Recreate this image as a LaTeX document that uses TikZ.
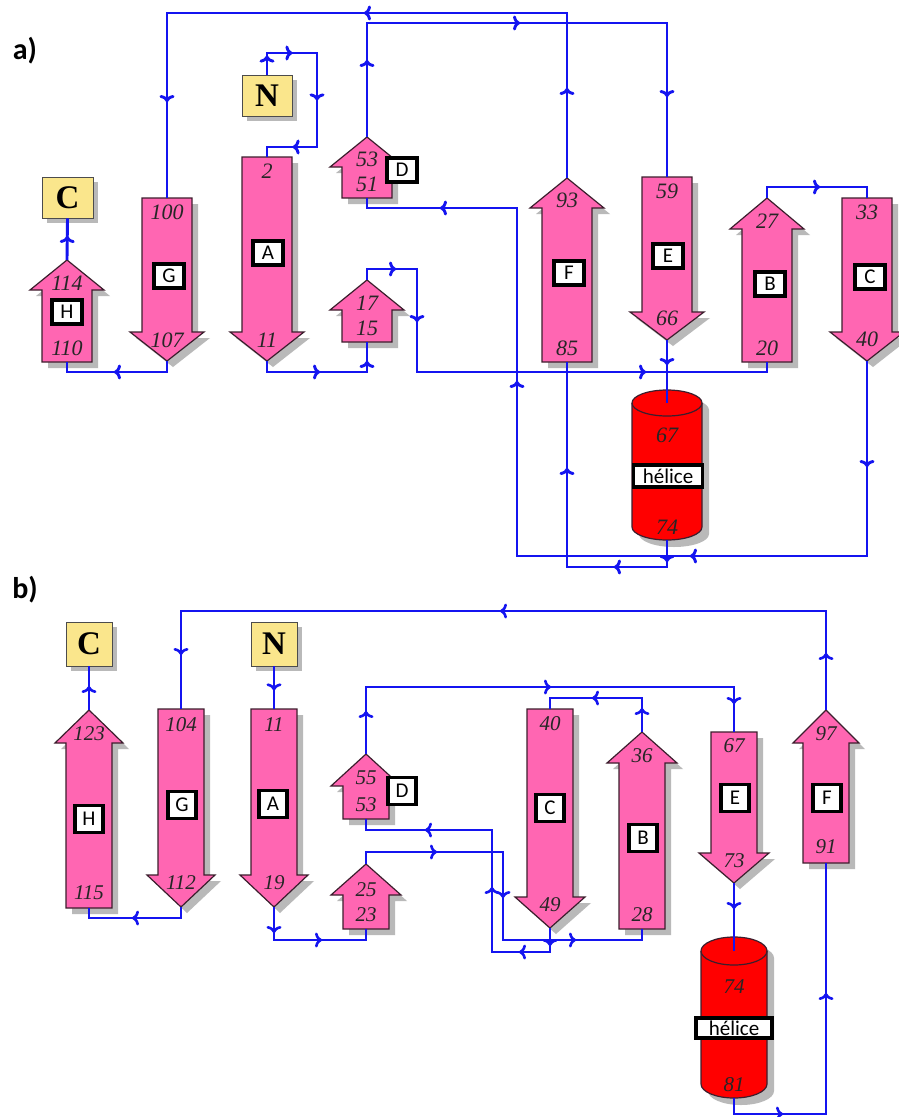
\documentclass[tikz,border=0pt]{standalone}
\usepackage{fontspec}
\setmainfont{Liberation Serif}
\newfontfamily\carlito{Carlito}
\usetikzlibrary{arrows.meta,decorations.markings,shadows}
\definecolor{strandpink}{RGB}{255,102,178}
\definecolor{flowblue}{RGB}{20,20,240}
\definecolor{termyellow}{RGB}{250,230,140}
\definecolor{helixred}{RGB}{255,0,0}
\definecolor{shadowgray}{RGB}{185,185,185}
\definecolor{edgedark}{RGB}{60,30,45}
\tikzset{
  chev/.tip={Computer Modern Rightarrow[length=7pt,width=15pt]},
  /pgf/decoration/am/.style={mark=at position #1 with {\arrow{chev}}},
  flow/.style={color=flowblue, draw, line width=2.9pt, postaction={decorate}},
  flowb/.style={flow, line width=2.6pt},
  strandfill/.style={fill=strandpink, draw=edgedark, line width=1.2pt, line join=miter},
  shadowfill/.style={fill=shadowgray},
  helixfill/.style={fill=helixred, draw=edgedark, line width=1.2pt},
  num/.style={font=\fontsize{22}{22}\selectfont\itshape, inner sep=0pt, text=black!85},
  numb/.style={num, font=\fontsize{21}{21}\selectfont\itshape},
  lbl/.style={draw=black, line width=3.2pt, fill=white, font=\carlito\fontsize{21}{21}\selectfont, minimum width=30pt, minimum height=24pt, inner sep=0pt},
  lblb/.style={lbl, minimum width=28pt, minimum height=27pt},
  term/.style={fill=termyellow, draw=black!70, line width=0.8pt, font=\bfseries\fontsize{33}{33}\selectfont, inner sep=0pt, drop shadow={shadow xshift=5pt, shadow yshift=-5pt, opacity=1, fill=shadowgray, draw=none}},
  panel/.style={font=\carlito\bfseries\fontsize{30}{30}\selectfont, inner sep=0pt}
}
% name, cx, tip y, head base y, bottom y, body half, head half
\newcommand{\strandUp}[7]{%
  \path[shadowfill,shift={(6,6)}] (#2-#6,#5) -- (#2-#6,#4) -- (#2-#7,#4) -- (#2,#3) -- (#2+#7,#4) -- (#2+#6,#4) -- (#2+#6,#5) -- cycle;
  \path[strandfill] (#2-#6,#5) -- (#2-#6,#4) -- (#2-#7,#4) -- (#2,#3) -- (#2+#7,#4) -- (#2+#6,#4) -- (#2+#6,#5) -- cycle;
  \coordinate (#1-tip) at (#2,#3);
  \coordinate (#1-end) at (#2,#5);
}
% name, cx, top y, head base y, tip y, body half, head half
\newcommand{\strandDown}[7]{%
  \path[shadowfill,shift={(6,6)}] (#2-#6,#3) -- (#2+#6,#3) -- (#2+#6,#4) -- (#2+#7,#4) -- (#2,#5) -- (#2-#7,#4) -- (#2-#6,#4) -- cycle;
  \path[strandfill] (#2-#6,#3) -- (#2+#6,#3) -- (#2+#6,#4) -- (#2+#7,#4) -- (#2,#5) -- (#2-#7,#4) -- (#2-#6,#4) -- cycle;
  \coordinate (#1-end) at (#2,#3);
  \coordinate (#1-tip) at (#2,#5);
}
% name, cx, top centre y, bottom centre y, rx, ry
\newcommand{\helixCyl}[6]{%
  \path[shadowfill,shift={(7,7)}] (#2-#5,#3) -- (#2-#5,#4) arc[start angle=180,end angle=0,x radius=#5,y radius=#6] -- (#2+#5,#3) arc[start angle=0,end angle=-180,x radius=#5,y radius=#6] -- cycle;
  \path[helixfill] (#2-#5,#3) -- (#2-#5,#4) arc[start angle=180,end angle=0,x radius=#5,y radius=#6] -- (#2+#5,#3) arc[start angle=0,end angle=-180,x radius=#5,y radius=#6] -- cycle;
  \draw[edgedark, line width=1.2pt] (#2-#5,#3) arc[start angle=180,end angle=0,x radius=#5,y radius=#6];
  \coordinate (#1-top) at (#2,#3);
  \coordinate (#1-bot) at (#2,#4+#6);
}
\begin{document}
\begin{tikzpicture}[x=1pt,y=-1pt]
\useasboundingbox[fill=white] (0,0) rectangle (899,1117);

% ================= panel a =================
\node[panel] (pa) at (25,51) {a)};
\strandUp{aH}{67}{260}{290}{362}{25}{37}
\strandDown{aG}{167}{198}{332}{361}{25}{37}
\strandDown{aA}{267}{157}{332}{361}{25}{37}
\strandUp{aD}{367}{137}{167}{198}{25}{37}
\strandUp{aS}{367}{280}{310}{342}{25}{37}
\strandUp{aF}{567}{178}{208}{362}{25}{37}
\strandDown{aE}{667}{177}{312}{340}{25}{37}
\strandUp{aB}{767}{198}{229}{362}{25}{37}
\strandDown{aC}{867}{198}{332}{361}{25}{37}
\helixCyl{aHx}{667}{403}{527}{35}{13}

\node[term, minimum width=51pt, minimum height=41pt] (aCt) at (67.5,197.5) {C};
\node[term, minimum width=50pt, minimum height=41pt] (aNt) at (267,95.5) {N};

\node[num] (aH1) at (67,283) {114};
\node[num] (aH2) at (67,348) {110};
\node[num] (aG1) at (167,212) {100};
\node[num] (aG2) at (167,340) {107};
\node[num] (aA1) at (267,171) {2};
\node[num] (aA2) at (267,340) {11};
\node[num] (aD1) at (367,159) {53};
\node[num] (aD2) at (367,184) {51};
\node[num] (aS1) at (367,303) {17};
\node[num] (aS2) at (367,328) {15};
\node[num] (aF1) at (567,200) {93};
\node[num] (aF2) at (567,348) {85};
\node[num] (aE1) at (667,191) {59};
\node[num] (aE2) at (667,318) {66};
\node[num] (aB1) at (767,221) {27};
\node[num] (aB2) at (767,348) {20};
\node[num] (aC1) at (867,212) {33};
\node[num] (aC2) at (867,339) {40};
\node[num] (aX1) at (667,435) {67};
\node[num] (aX2) at (667,527) {74};

\node[lbl] (aHl) at (67,312) {H};
\node[lbl] (aGl) at (169,276) {G};
\node[lbl] (aAl) at (268,253) {A};
\node[lbl] (aDl) at (402,170) {D};
\node[lbl] (aFl) at (569,273) {F};
\node[lbl] (aEl) at (668,256) {E};
\node[lbl] (aBl) at (770,284) {B};
\node[lbl] (aCl) at (870,277) {C};
\node[lbl, minimum width=69pt, minimum height=22pt] (aXl) at (668,476) {hélice};

\draw[flow, decoration={markings, am=19pt, am=47pt, am=119pt, am=190pt}] (aNt.north) -- (267,53) -- (317,53) -- (317,147) -- (267,147) -- (aA-end);
\draw[flow, decoration={markings, am=64pt, am=122pt}] (aA-tip) -- (267,372) -- (367,372) -- (aS-end);
\draw[flow, decoration={markings, am=40pt, am=114pt, am=393pt}] (aS-tip) -- (367,269) -- (417,269) -- (417,372) -- (767,372) -- (aB-end);
\draw[flow, decoration={markings, am=64pt}] (aB-tip) -- (767,187) -- (867,187) -- (aC-end);
\draw[flow, decoration={markings, am=106pt, am=372pt, am=720pt, am=970pt}] (aC-tip) -- (867,556) -- (517,556) -- (517,208) -- (367,208) -- (aD-end);
\draw[flow, decoration={markings, am=77pt, am=267pt, am=488pt}] (aD-tip) -- (367,23) -- (667,23) -- (aE-end);
\draw[flow, decoration={markings, am=25pt}] (aE-tip) -- (aHx-top);
\draw[flow, decoration={markings, am=22pt, am=80pt, am=226pt}] (aHx-bot) -- (667,567) -- (567,567) -- (aF-end);
\draw[flow, decoration={markings, am=90pt, am=368pt, am=654pt}] (aF-tip) -- (567,13) -- (167,13) -- (aG-end);
\draw[flow, decoration={markings, am=64pt}] (aG-tip) -- (167,372) -- (67,372) -- (aH-end);
\draw[flow, decoration={markings, am=24pt}] (aH-tip) -- (aCt.south);

% ================= panel b =================
\node[panel] (pb) at (25,590) {b)};
\strandUp{bH}{89}{710}{743}{908}{23}{34}
\strandDown{bG}{181}{709}{875}{907}{23}{34}
\strandDown{bA}{274}{709}{875}{907}{23}{34}
\strandUp{bD}{366}{754}{786}{819}{23}{35}
\strandUp{bS}{366}{864}{895}{929}{23}{35}
\strandDown{bC}{550}{709}{897}{928}{23}{35}
\strandUp{bB}{642}{732}{763}{929}{23}{35}
\strandDown{bE}{734}{732}{853}{883}{23}{35}
\strandUp{bF}{826}{710}{743}{863}{23}{33}
\helixCyl{bHx}{734}{951}{1084}{33}{14}

\node[term, minimum width=46pt, minimum height=44pt] (bCt) at (89,644) {C};
\node[term, minimum width=46pt, minimum height=44pt] (bNt) at (274,644) {N};

\node[numb] (bH1) at (89,734) {123};
\node[numb] (bH2) at (89,893) {115};
\node[numb] (bG1) at (181,725) {104};
\node[numb] (bG2) at (181,883) {112};
\node[numb] (bA1) at (274,725) {11};
\node[numb] (bA2) at (274,883) {19};
\node[numb] (bD1) at (366,778) {55};
\node[numb] (bD2) at (366,805) {53};
\node[numb] (bS1) at (366,890) {25};
\node[numb] (bS2) at (366,915) {23};
\node[numb] (bC1) at (550,724) {40};
\node[numb] (bC2) at (550,905) {49};
\node[numb] (bB1) at (642,756) {36};
\node[numb] (bB2) at (642,915) {28};
\node[numb] (bE1) at (734,746) {67};
\node[numb] (bE2) at (734,861) {73};
\node[numb] (bF1) at (826,734) {97};
\node[numb] (bF2) at (826,847) {91};
\node[numb] (bX1) at (734,987) {74};
\node[numb] (bX2) at (734,1085) {81};

\node[lblb] (bHl) at (89,819) {H};
\node[lblb] (bGl) at (182,805) {G};
\node[lblb] (bAl) at (273,804) {A};
\node[lblb] (bDl) at (402,791) {D};
\node[lblb] (bCl) at (550,808) {C};
\node[lblb] (bBl) at (643,838) {B};
\node[lblb] (bEl) at (735,798) {E};
\node[lblb] (bFl) at (827,798) {F};
\node[lbl, minimum width=76pt, minimum height=20pt] (bXl) at (734,1028) {hélice};

\draw[flowb, decoration={markings, am=24pt}] (bNt.south) -- (bA-end);
\draw[flowb, decoration={markings, am=26pt, am=81pt}] (bA-tip) -- (274,940) -- (366,940) -- (bS-end);
\draw[flowb, decoration={markings, am=83pt, am=195pt, am=310pt}] (bS-tip) -- (366,852) -- (503,852) -- (503,940) -- (642,940) -- (bB-end);
\draw[flowb, decoration={markings, am=24pt, am=84pt}] (bB-tip) -- (642,698) -- (550,698) -- (bC-end);
\draw[flowb, decoration={markings, am=18pt, am=55pt, am=147pt, am=271pt}] (bC-tip) -- (550,952) -- (492,952) -- (492,830) -- (366,830) -- (bD-end);
\draw[flowb, decoration={markings, am=43pt, am=252pt, am=452pt}] (bD-tip) -- (366,687) -- (734,687) -- (bE-end);
\draw[flowb, decoration={markings, am=26pt}] (bE-tip) -- (bHx-top);
\draw[flowb, decoration={markings, am=65pt, am=229pt}] (bHx-bot) -- (734,1114) -- (826,1114) -- (bF-end);
\draw[flowb, decoration={markings, am=57pt, am=425pt, am=788pt}] (bF-tip) -- (826,611) -- (181,611) -- (bG-end);
\draw[flowb, decoration={markings, am=60pt}] (bG-tip) -- (181,918) -- (89,918) -- (bH-end);
\draw[flowb, decoration={markings, am=24pt}] (bH-tip) -- (bCt.south);
\end{tikzpicture}
\end{document}
